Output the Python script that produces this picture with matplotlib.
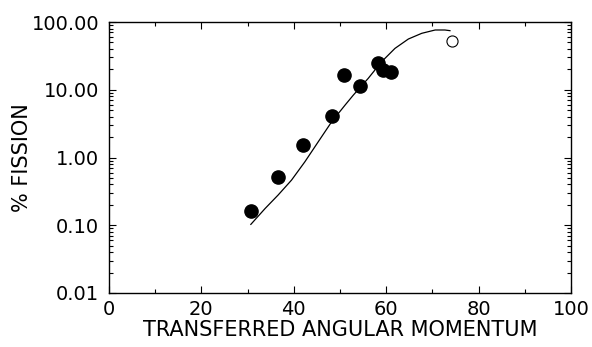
import numpy as np
import matplotlib.pyplot as plt
from matplotlib.ticker import FixedLocator, LogLocator, NullFormatter

plt.rcParams['font.family'] = ['DejaVu Sans']

# measured points (filled) and the one open point
ang_mom = [30.7, 36.6, 42.0, 48.3, 50.9, 54.3, 58.3, 59.4, 61.0]
fission = [0.16, 0.51, 1.52, 4.1, 16.5, 11.3, 25.1, 19.5, 18.1]
open_mom = [74.2]
open_fission = [53.0]

# calculated curve
curve_mom = [30.7, 33.8, 36.6, 39.5, 42.4, 45.3, 48.2, 51.1, 52.9,
             56.1, 59.0, 61.9, 64.8, 67.7, 70.6, 72.7, 73.8]
curve_fission = [0.103, 0.177, 0.279, 0.463, 0.865, 1.71, 3.37, 5.94, 8.36,
                 14.7, 25.9, 40.8, 56.1, 68.1, 76.2, 76.2, 74.5]

xticks = [0, 20, 40, 60, 80, 100]
yticks = [0.01, 0.1, 1, 10, 100]
ytick_labels = ['0.01', '0.10', '1.00', '10.00', '100.00']

fig = plt.figure(figsize=(5.92, 3.47), dpi=100)
ax = fig.add_axes([109/592, 1-293/347, 462/592, 271/347])

ax.plot(curve_mom, curve_fission, color='black', lw=0.9)
ax.plot(ang_mom, fission, 'o', color='black', ms=9.5)
ax.plot(open_mom, open_fission, 'o', mfc='white', mec='black', ms=8, mew=0.8)

ax.set_yscale('log')
ax.set_xlim(0, 100)
ax.set_ylim(0.01, 100)
ax.set_xticks(xticks)
ax.set_xticklabels([str(v) for v in xticks])
ax.xaxis.set_minor_locator(FixedLocator([10, 30, 50, 70, 90]))
ax.set_yticks(yticks)
ax.set_yticklabels(ytick_labels)
ax.yaxis.set_minor_locator(LogLocator(base=10, subs=np.arange(2, 10)))
ax.yaxis.set_minor_formatter(NullFormatter())

ax.tick_params(which='both', direction='in', top=True, right=True,
               labelsize=14, width=0.8)
ax.tick_params(axis='x', pad=5)
ax.tick_params(axis='y', pad=7)
ax.tick_params(which='major', length=5)
ax.tick_params(which='minor', length=3)
for s in ax.spines.values():
    s.set_linewidth(1.0)

ax.set_xlabel('TRANSFERRED ANGULAR MOMENTUM', fontsize=15, labelpad=1)
ax.set_ylabel('% FISSION', fontsize=15, labelpad=0)

fig.savefig('out.png', dpi=100)
